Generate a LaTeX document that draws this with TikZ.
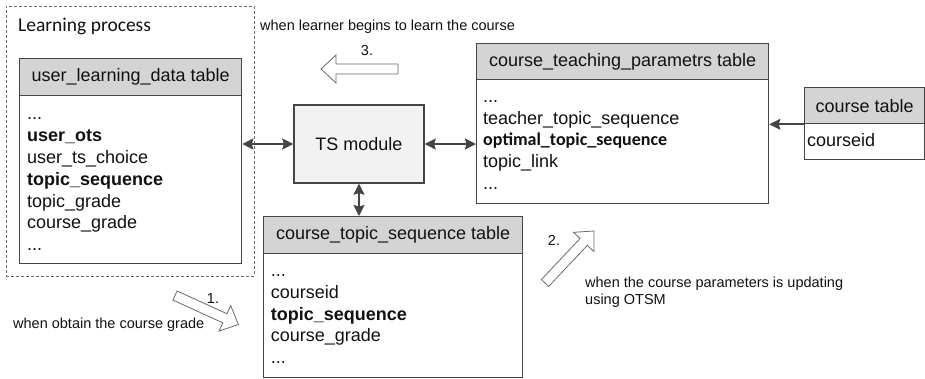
\documentclass[tikz,border=0pt]{standalone}
\usepackage{fontspec}
\setmainfont{Liberation Sans}
\newfontfamily\carlito{Carlito}
\usetikzlibrary{arrows.meta,calc}
\definecolor{edge}{HTML}{454545}
\definecolor{hdrfill}{HTML}{D4D4D4}
\definecolor{tsfill}{HTML}{F2F2F2}
\definecolor{txt}{HTML}{111111}
\tikzset{
  tbl/.style={draw=edge, line width=1.3pt, fill=white, inner sep=0, anchor=north west},
  hdr/.style={draw=edge, line width=1.3pt, fill=hdrfill, inner sep=0, anchor=north west, text=txt,
    font=\fontsize{18}{21.8}\selectfont},
  body/.style={inner sep=0, anchor=north west, align=left, text=txt,
    font=\fontsize{18}{21.8}\selectfont},
  note/.style={inner sep=0, text=txt, font=\fontsize{14.5}{17.5}\selectfont},
  tip/.style={},
  dconn/.style={draw=edge, line width=1.7pt, {Stealth[length=11pt,width=11pt,inset=1.5pt]}-{Stealth[length=11pt,width=11pt,inset=1.5pt]}},
  sconn/.style={draw=edge, line width=1.7pt, -{Stealth[length=11pt,width=11pt,inset=1.5pt]}},
  harrow/.style={draw=edge!80, line width=0.8pt, fill=white, line join=miter},
}
\newcommand\hollowarrow[2]{%
  \coordinate (hb) at ($(#2)!15pt!(#1)$);
  \draw[harrow] ($(#1)!5pt!90:(#2)$) -- ($(hb)!5pt!90:(#2)$) -- ($(hb)!14pt!90:(#2)$) -- (#2)
    -- ($(hb)!14pt!-90:(#2)$) -- ($(hb)!5pt!-90:(#2)$) -- ($(#1)!5pt!-90:(#2)$) -- cycle;
}
\begin{document}
\begin{tikzpicture}[x=1pt,y=-1pt]
\useasboundingbox (0,0) rectangle (925,378);
% Learning process container
\node[draw=edge!80, line width=0.8pt, dash pattern=on 3pt off 2pt, inner sep=0,
  minimum width=248, minimum height=270, anchor=north west] (lp) at (6,6) {};
\node[inner sep=0, anchor=west, text=txt, font=\carlito\fontsize{19.5}{23}\selectfont] (lpt) at (18,26) {Learning process};

% user_learning_data table
\node[tbl, minimum width=222, minimum height=205] (uld) at (19,58) {};
\node[hdr, minimum width=222, minimum height=37] (uldh) at (19,58) {user\_learning\_data table};
\node[body] (uldb) at (27,104.5) {\strut...\\ \textbf{user\_ots}\\ user\_ts\_choice\\ \textbf{topic\_sequence}\\ topic\_grade\\ course\_grade\\ ...};

% TS module
\node[draw=edge, line width=1.3pt, fill=tsfill, minimum width=130, minimum height=78, text=txt,
  font=\fontsize{18}{21.8}\selectfont] (ts) at (359,144) {TS module};

% course_teaching_parametrs table
\node[tbl, minimum width=292, minimum height=160] (ctp) at (476,43) {};
\node[hdr, minimum width=292, minimum height=36] (ctph) at (476,43) {course\_teaching\_parametrs table};
\node[body] (ctpb) at (483,86.8) {\strut...\\ teacher\_topic\_sequence\\ {\carlito\bfseries optimal\_topic\_sequence}\\ topic\_link\\ ...};

% course table
\node[tbl, minimum width=120, minimum height=72] (ct) at (804,87) {};
\node[hdr, minimum width=120, minimum height=36] (cth) at (804,87) {course table};
\node[body, anchor=base west] (ctb) at (807,146.7) {courseid};

% course_topic_sequence table
\node[tbl, minimum width=259, minimum height=160.5] (cts) at (263,216) {};
\node[hdr, minimum width=259, minimum height=37] (ctsh) at (263,216) {course\_topic\_sequence table};
\node[body] (ctsb) at (270.7,261) {\strut...\\ courseid\\ \textbf{topic\_sequence}\\ course\_grade\\ ...};

% connectors
\draw[dconn] (ts.west -| uld.east) -- (ts.west);
\draw[dconn] (ts.east) -- (ts.east -| ctp.west);
\draw[dconn] (ts.south) -- (ts.south |- cts.north);
\draw[sconn] (cth.south west) -- (cth.south west -| ctp.east);

% hollow arrows
\coordinate (t3) at (398,69); \coordinate (p3) at (321,69);
\hollowarrow{t3}{p3}
\coordinate (t1) at (175,295.5); \coordinate (p1) at (238.5,324.5);
\hollowarrow{t1}{p1}
\coordinate (t2) at (545,283); \coordinate (p2) at (594,231);
\hollowarrow{t2}{p2}

% labels
\node[note] (n3) at (367,51) {3.};
\node[note] (n1) at (213,299) {1.};
\node[note] (n2) at (554,240) {2.};
\node[note, anchor=west] (w3) at (260,27) {when learner begins to learn the course};
\node[note, anchor=west] (w1) at (13,325) {when obtain the course grade};
\node[note, anchor=west] (w2a) at (585,284) {when the course parameters is updating};
\node[note, anchor=west] (w2b) at (585,301) {using OTSM};
\end{tikzpicture}
\end{document}
